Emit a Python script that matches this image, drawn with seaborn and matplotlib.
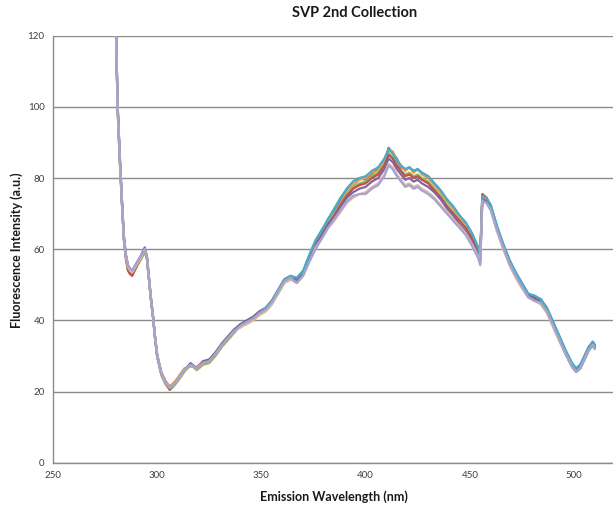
import matplotlib
matplotlib.use("Agg")
import matplotlib.pyplot as plt
import seaborn as sns
import pandas as pd

# Emission wavelengths (nm), shared by every scan
wavelength = [280, 281, 282, 283, 284, 285, 286, 287, 288, 290,
              292, 294, 295, 296, 297, 298, 299, 300, 302, 304,
              306, 308, 310, 313, 316, 319, 322, 325, 328, 331,
              334, 337, 340, 343, 346, 349, 352, 355, 358, 361,
              364, 367, 370, 373, 376, 379, 382, 385, 388, 391,
              394, 397, 400, 403, 406, 409, 411, 413, 415, 417,
              419, 421, 423, 425, 427, 430, 433, 436, 439, 442,
              445, 448, 451, 454, 455, 456, 458, 460, 463, 466,
              469, 472, 475, 478, 481, 484, 487, 490, 493, 496,
              499, 501, 503, 505, 507, 509, 510]

# Fluorescence intensity (a.u.) of each repeated scan
scan_1 = [128, 100, 86, 74, 63, 58, 55, 54, 53.5, 55.5,
          57.5, 60, 58, 52, 46, 41, 35, 30, 25, 22.5,
          21, 22, 23.5, 26, 27.5, 26.5, 28, 28.5, 30.5, 33,
          35, 37, 38.5, 39.5, 40.5, 42, 43, 45, 48, 51,
          52,
          51.5, 53.5, 58, 62.5, 65, 68.5, 71, 74, 77, 79,
          80, 79.5, 81, 83, 84.5, 88.5, 87, 85.5, 83, 82.5,
          83, 82, 82.5, 81.5, 80.5, 78.5, 76.5, 74, 72, 69.5,
          67.5, 64.5, 60.5, 58.5,
          75, 74, 72.5, 66.5, 61.5, 57, 53.5, 50.5, 47.5, 46.5,
          46, 43.5, 39.5, 35.5, 31.5, 28, 26.5, 27.5, 30, 32.5,
          34, 33]
scan_2 = [127, 99, 85, 73.5, 62.5, 57.5, 54.5, 53.5, 54, 55,
          57, 59.5, 58.5, 52.5, 46.5, 41.5, 35.5, 30.5, 25.5, 23,
          21.5, 22.5, 24, 26.5, 27, 27, 28.5, 29, 31, 33.5,
          35.5, 37.5, 38, 40, 41, 42.5, 43.5, 45.5, 48.5, 51.5,
          52.5,
          51, 53, 57.5, 61.5, 64.5, 68, 70, 73, 76, 78,
          79.5, 80, 81.5, 82, 85, 88, 87.5, 85, 83.5, 82,
          83, 81.5, 82.5, 81, 80, 78, 76, 73.5, 71.5, 69,
          67, 64, 60, 58,
          74.5, 74, 72, 66, 61, 56.5, 53, 50, 47, 46,
          45.5, 43, 39, 35, 31, 27.5, 26, 27, 29.5, 32,
          33.5, 32.5]
scan_3 = [128, 100.5, 86.5, 74.5, 63.5, 57, 54, 53, 53, 55,
          57, 59, 57.5, 51.5, 45.5, 40.5, 34.5, 29.5, 24.5, 22,
          20.5, 21.5, 23, 25.5, 27.5, 26, 27.5, 28, 30, 32.5,
          34.5, 36.5, 38.5, 39, 40, 41.5, 42.5, 44.5, 47.5, 50.5,
          51.5,
          51, 53, 57, 61, 64.5, 67.5, 70, 72.5, 75.5, 77.5,
          78.5, 79, 80.5, 81.5, 84, 87, 86, 84, 82, 81,
          81.5, 80.5, 81, 80, 79, 77, 75, 72.5, 70.5, 68,
          66, 63, 59, 57,
          74, 73.5, 71.5, 65.5, 60.5, 56, 52.5, 49.5, 46.5, 45.5,
          45, 42.5, 38.5, 34.5, 30.5, 27, 25.5, 26.5, 29, 31.5,
          33, 32]
scan_4 = [128, 100, 86, 74, 63, 57.5, 54, 53, 52.5, 55,
          57.5, 60, 58, 52, 46, 41, 35, 30, 25, 22.5,
          20.5, 22, 23.5, 26, 27.5, 26.5, 28, 28.5, 30.5, 33,
          35, 37, 38.5, 39.5, 40.5, 42, 43, 45, 48, 51,
          52,
          51.5, 53.5, 57.5, 61.5, 64, 67, 69.5, 72.5, 75, 77,
          78, 78.5, 80, 81, 83.5, 86.5, 85.5, 83.5, 82, 80.5,
          81, 80, 80.5, 79.5, 78.5, 76.5, 74.5, 72, 70, 68,
          66, 63, 59.5, 57.5,
          75.5, 74.5, 72, 66, 61, 56.5, 53, 50, 47, 46,
          45.5, 43, 39, 35, 31, 27.5, 26, 27, 29.5, 32,
          33.5, 32.5]
scan_5 = [128, 101, 87, 75, 64, 58.5, 55.5, 54.5, 54, 56,
          58, 60.5, 58, 52, 46, 41, 35, 30, 25, 22.5,
          21, 22, 23.5, 26, 28, 26.5, 28.5, 29, 31, 33.5,
          35.5, 37.5, 39, 40, 41, 42.5, 43.5, 45.5, 48.5, 51.5,
          52.5,
          51, 53, 57, 61, 64, 67, 69, 72, 74.5, 76,
          77, 77.5, 79, 80, 82.5, 85.5, 84.5, 82.5, 81, 79.5,
          80, 79, 79.5, 78.5, 77.5, 76, 74, 71.5, 69.5, 67,
          65, 62, 58.5, 56.5,
          74, 73.5, 71.5, 65.5, 60.5, 56, 52.5, 49.5, 47, 46.5,
          45, 42.5, 38.5, 34.5, 30.5, 27, 25.5, 26.5, 29, 31.5,
          33, 32]
scan_6 = [128, 100, 86, 74, 63, 58, 55, 54, 53.5, 55.5,
          57.5, 60, 58, 52, 46, 41, 35, 30, 25, 22.5,
          21, 22, 23.5, 26, 27.5, 26.5, 28, 28.5, 30.5, 33,
          35, 37, 38.5, 39.5, 40.5, 42, 43.5, 45.5, 48.5, 51.5,
          52.5,
          52, 54, 58.5, 62.5, 65.5, 68.5, 71.5, 74.5, 77, 79,
          80, 80.5, 82, 83, 85.5, 88, 87, 85, 83.5, 82.5,
          83, 82, 82.5, 81.5, 80.5, 78.5, 76.5, 74, 72, 69.5,
          67.5, 64.5, 60.5, 58,
          75, 74.5, 72.5, 66.5, 61.5, 57, 53.5, 50.5, 47.5, 47,
          46, 43.5, 39.5, 35.5, 31.5, 28, 26.5, 27.5, 30, 32.5,
          34, 33]
scan_7 = [128, 100, 86, 74, 63, 58, 55, 54, 53.5, 55.5,
          57.5, 60, 58, 52, 46, 41, 35, 30, 25, 22.5,
          21, 22, 23.5, 26, 27.5, 26.5, 28, 28.5, 30.5, 33,
          35, 37, 38, 39, 40, 41.5, 42.5, 44.5, 47.5, 50.5,
          51.5,
          50.5, 52.5, 56.5, 60.5, 63, 66, 68, 70.5, 73, 74.5,
          75.5, 76, 77.5, 78.5, 81, 84, 83, 81, 79.5, 78,
          78.5, 77.5, 78, 77, 76, 74.5, 72.5, 70.5, 68.5, 66.5,
          64.5, 61.5, 58, 56,
          73.5, 73, 71, 65, 60, 55.5, 52, 49, 46.5, 45.5,
          44.5, 42, 38, 34, 30.5, 27, 25.5, 26.5, 29, 31.5,
          33, 32]
scan_8 = [128, 100, 86, 74, 63, 58, 55.5, 54.5, 54, 56,
          58, 60, 58, 52, 46, 41, 35, 30, 25, 22.5,
          21, 22, 23.5, 26, 27.5, 26.5, 28, 28.5, 30.5, 33,
          35, 37, 38.5, 39.5, 40.5, 42, 43, 45, 48, 51,
          52,
          50.5, 52.5, 56.5, 60, 63, 66, 68.5, 71, 73.5, 75,
          75.5, 75.5, 77, 78, 80.5, 83.5, 82.5, 80.5, 79, 77.5,
          78, 77, 77.5, 76.5, 75.5, 74, 72, 70, 68, 66,
          64, 61, 57.5, 55.5,
          73.5, 73, 71, 65.5, 60.5, 56, 52.5, 49.5, 46.5, 45.5,
          45, 42.5, 38.5, 34.5, 30.5, 27, 25.5, 26.5, 29, 31.5,
          33, 32]

scan_names = ["Scan 1", "Scan 2", "Scan 3", "Scan 4",
              "Scan 5", "Scan 6", "Scan 7", "Scan 8"]
scans = [scan_1, scan_2, scan_3, scan_4, scan_5, scan_6, scan_7, scan_8]
scan_colors = ["#4F81BD", "#F79646", "#9BBB59", "#C0504D",
               "#8064A2", "#4BACC6", "#E6B8A2", "#A4A4CE"]

y_ticks = [0, 20, 40, 60, 80, 100, 120]
x_ticks = [250, 300, 350, 400, 450, 500]

frames = []
for name, values in zip(scan_names, scans):
    frames.append(pd.DataFrame({"wavelength": wavelength,
                                "intensity": values,
                                "scan": name}))
df = pd.concat(frames, ignore_index=True)

sns.set_theme(style="white")
plt.rcParams["font.family"] = ["Lato", "DejaVu Sans"]

fig = plt.figure(figsize=(6.13, 5.12), dpi=100)
ax = fig.add_axes([53 / 613, 49.3 / 512, 1 - 53 / 613, (462.7 - 35.7) / 512])

sns.lineplot(data=df, x="wavelength", y="intensity", hue="scan",
             hue_order=scan_names, palette=scan_colors, estimator=None,
             sort=False, legend=False, linewidth=1.6, ax=ax)

ax.set_xlim(250, 518.7)
ax.set_ylim(0, 120)
ax.set_xticks(x_ticks)
ax.set_yticks(y_ticks)
ax.yaxis.grid(True, color="#8C8C8C", linewidth=1.0)
ax.set_axisbelow(True)
for side in ["top", "right"]:
    ax.spines[side].set_visible(False)
for side in ["left", "bottom"]:
    ax.spines[side].set_color("#8C8C8C")
    ax.spines[side].set_linewidth(1.0)
ax.tick_params(axis="x", direction="inout", length=4, width=0.8,
               color="#8C8C8C", labelsize=7, labelcolor="#404040", pad=4)
ax.tick_params(axis="y", direction="out", length=3, width=0.8,
               color="#8C8C8C", labelsize=7, labelcolor="#404040", pad=3)
ax.set_xlabel("")
ax.set_ylabel("")

fig.text(355 / 613, 1 - 13 / 512, "SVP 2nd Collection", ha="center",
         va="center", fontsize=10.5, fontweight="bold", color="#1A1A1A")
fig.text(334 / 613, 1 - 497 / 512, "Emission Wavelength (nm)", ha="center",
         va="center", fontsize=9, fontweight="bold", color="#1A1A1A")
fig.text(17 / 613, 1 - 250 / 512, "Fluorescence Intensity (a.u.)",
         ha="center", va="center", rotation=90, fontsize=9,
         fontweight="bold", color="#1A1A1A")

fig.savefig("out.png", dpi=100, facecolor="white")
